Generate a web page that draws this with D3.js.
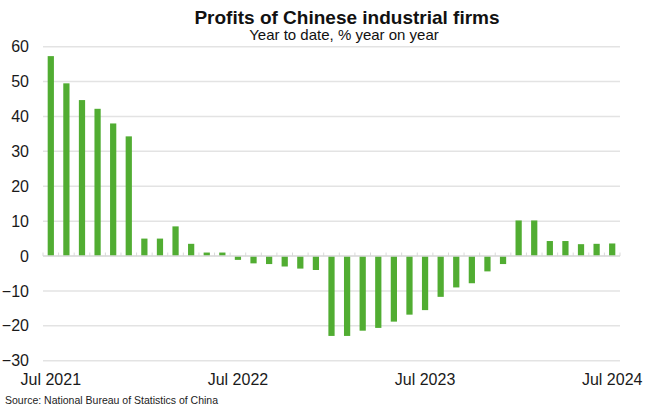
<!DOCTYPE html>
<html><head><meta charset="utf-8">
<script src="https://cdn.jsdelivr.net/npm/d3@7"></script>
<style>
html,body{margin:0;padding:0;background:#fff;}
svg{display:block;font-family:"Liberation Sans",Arial,sans-serif;}
</style></head>
<body>
<svg id="chart" width="650" height="413"></svg>
<script>
const months = ["Jul 2021","Aug 2021","Sep 2021","Oct 2021","Nov 2021","Dec 2021",
"Jan 2022","Feb 2022","Mar 2022","Apr 2022","May 2022","Jun 2022",
"Jul 2022","Aug 2022","Sep 2022","Oct 2022","Nov 2022","Dec 2022",
"Jan 2023","Feb 2023","Mar 2023","Apr 2023","May 2023","Jun 2023",
"Jul 2023","Aug 2023","Sep 2023","Oct 2023","Nov 2023","Dec 2023",
"Jan 2024","Feb 2024","Mar 2024","Apr 2024","May 2024","Jun 2024","Jul 2024"];
const profits = [57.3,49.5,44.7,42.2,38.0,34.3,
5.0,5.0,8.5,3.5,1.0,1.0,
-1.1,-2.1,-2.3,-3.0,-3.6,-4.0,
-22.9,-22.9,-21.4,-20.6,-18.8,-16.8,
-15.5,-11.7,-9.0,-7.8,-4.4,-2.3,
10.2,10.2,4.3,4.3,3.4,3.5,3.6];
const yTicks = [60,50,40,30,20,10,0,-10,-20,-30];
const xLabels = ["Jul 2021","Jul 2022","Jul 2023","Jul 2024"];
const title = "Profits of Chinese industrial firms";
const subtitle = "Year to date, % year on year";
const source = "Source: National Bureau of Statistics of China";

const svg = d3.select("#chart");
const mLeft = 43, mRight = 620, mTop = 46.7, mBottom = 360.7;

const x = d3.scaleBand().domain(months).range([mLeft, mRight]).paddingInner(0.6).paddingOuter(0.3);
const y = d3.scaleLinear().domain([-30, 60]).range([mBottom, mTop]);

// gridlines
svg.append("g").selectAll("line").data(yTicks).join("line")
  .attr("x1", mLeft).attr("x2", mRight)
  .attr("y1", d => y(d)).attr("y2", d => y(d))
  .attr("stroke", "#e3e3e3").attr("stroke-width", 1.5);

// y labels
const yAxis = d3.axisLeft(y).tickValues(yTicks).tickSize(0).tickPadding(0);
const gy = svg.append("g").attr("transform", "translate(29,0)").call(yAxis);
gy.select(".domain").remove();
gy.selectAll("text").attr("font-size", 16).attr("fill", "#1a1a1a")
  .attr("font-family", "Liberation Sans, Arial, sans-serif");

// bars
svg.append("g").selectAll("rect").data(profits).join("rect")
  .attr("x", (d, i) => x(months[i]))
  .attr("width", x.bandwidth())
  .attr("y", d => y(Math.max(0, d)))
  .attr("height", d => Math.abs(y(d) - y(0)))
  .attr("fill", "#51ad32");

// zero axis with category boundary ticks
const boundaries = d3.range(months.length + 1).map(i => mLeft + i * (mRight - mLeft) / months.length);
svg.append("line").attr("x1", mLeft).attr("x2", mRight).attr("y1", y(0)).attr("y2", y(0))
  .attr("stroke", "#dcdcdc").attr("stroke-width", 1.5);
svg.append("g").selectAll("line").data(boundaries).join("line")
  .attr("x1", d => d).attr("x2", d => d)
  .attr("y1", y(0)).attr("y2", y(0) - 3.5)
  .attr("stroke", "#d9d9d9").attr("stroke-width", 1);

// x labels
const xAxis = d3.axisBottom(x).tickValues(xLabels).tickSize(0).tickPadding(0);
const gx = svg.append("g").attr("transform", "translate(0,374)").call(xAxis);
gx.select(".domain").remove();
gx.selectAll("text").attr("font-size", 16).attr("fill", "#1a1a1a")
  .attr("font-family", "Liberation Sans, Arial, sans-serif");

// titles
svg.append("text").attr("x", 347).attr("y", 23.5).attr("text-anchor", "middle")
  .attr("font-size", 19).attr("font-weight", "bold").attr("fill", "#111").text(title);
svg.append("text").attr("x", 344).attr("y", 40).attr("text-anchor", "middle")
  .attr("font-size", 15).attr("fill", "#111").text(subtitle);
svg.append("text").attr("x", 5).attr("y", 404)
  .attr("font-size", 10.5).attr("fill", "#222").text(source);
</script>
</body></html>
